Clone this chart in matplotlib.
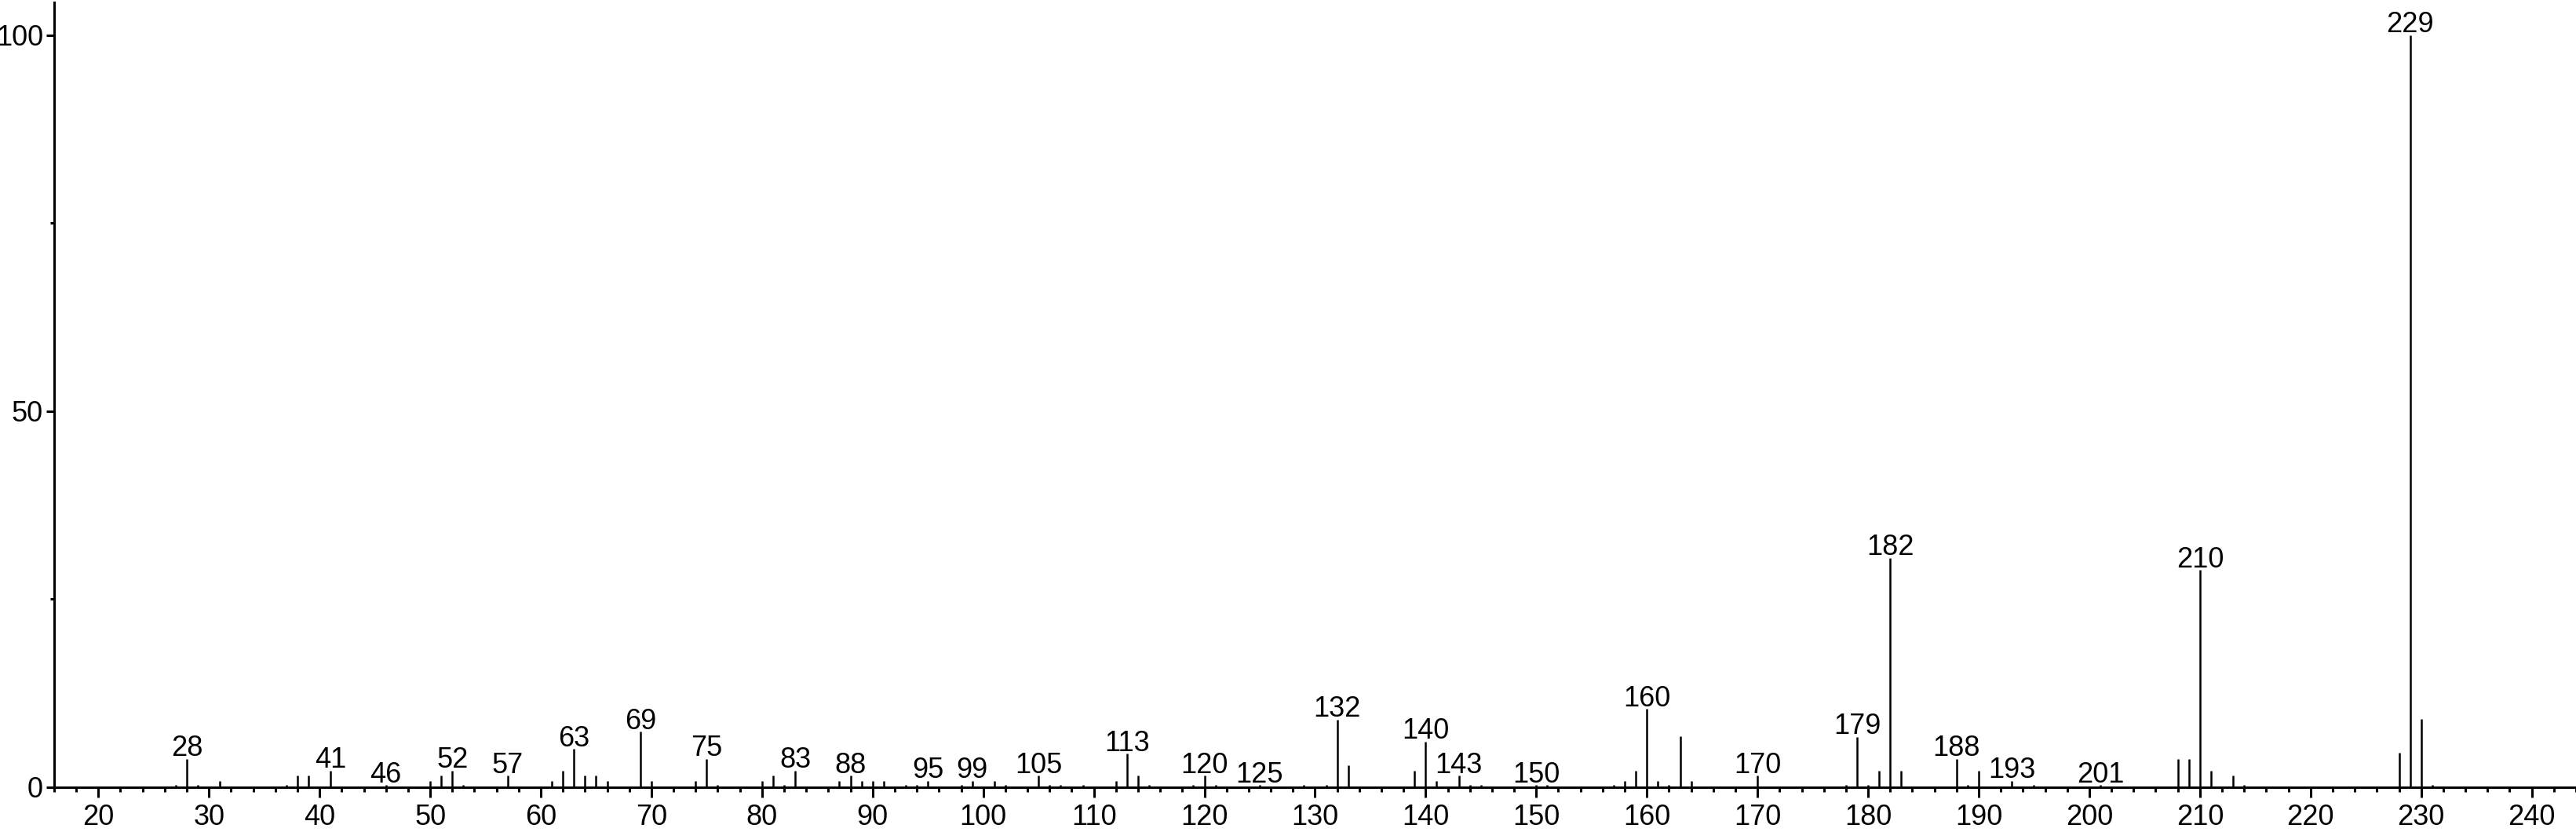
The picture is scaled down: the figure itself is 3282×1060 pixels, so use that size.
import matplotlib
matplotlib.use("Agg")
import matplotlib.pyplot as plt
from matplotlib.ticker import MultipleLocator

plt.rcParams['font.family'] = ['Liberation Sans', 'DejaVu Sans']

# m/z values and relative intensities (%)
mz = [27, 28, 29, 31, 37, 38, 39, 41, 46, 50, 51, 52, 53, 57,
      61, 62, 63, 64, 65, 66, 69, 70, 74, 75, 76, 80, 81, 82, 83,
      87, 88, 89, 90, 91, 93, 94, 95, 98, 99, 101, 102, 105, 106,
      107, 109, 112, 113, 114, 115, 119, 120, 121, 125, 129, 131,
      132, 133, 139, 140, 141, 143, 144, 145, 150, 151, 157, 158,
      159, 160, 161, 162, 163, 164, 170, 178, 179, 180, 181, 182,
      183, 188, 189, 190, 193, 195, 201, 208, 209, 210, 211, 213,
      214, 228, 229, 230, 231]
intensity = [0.3, 3.8, 0.3, 0.87, 0.3, 1.56, 1.56, 2.2, 0.3, 0.87, 1.56, 2.2, 0.3, 1.56,
             0.87, 2.2, 5.1, 1.56, 1.56, 0.87, 7.4, 0.87, 0.87, 3.8, 0.3, 0.87, 1.56, 0.3, 2.2,
             0.87, 1.56, 0.87, 0.87, 0.87, 0.3, 0.3, 0.87, 0.3, 0.87, 0.87, 0.3, 1.56, 0.3,
             0.3, 0.3, 0.87, 4.45, 1.56, 0.3, 0.3, 1.56, 0.3, 0.3, 0.3, 0.3,
             9.0, 2.9, 2.2, 6.1, 0.87, 1.56, 0.3, 0.3, 0.3, 0.3, 0.3, 0.87,
             2.2, 10.4, 0.87, 0.3, 6.8, 0.87, 1.56, 0.3, 6.7, 0.3, 2.2, 30.5,
             2.2, 3.8, 0.3, 2.2, 0.87, 0.3, 0.3, 3.8, 3.8, 28.9, 2.2, 1.56,
             0.3, 4.6, 100.0, 9.1, 0.3]

# peaks that carry an m/z label
labeled = [28, 41, 46, 52, 57, 63, 69, 75, 83, 88, 95, 99, 105, 113, 120,
           125, 132, 140, 143, 150, 160, 170, 179, 182, 188, 193, 201, 210, 229]

fig = plt.figure(figsize=(32.82, 10.60), dpi=100)
ax = fig.add_axes([0.021, 0.0538, 0.979, 0.943])

ax.vlines(mz, 0, intensity, color='black', linewidth=1.8)

lookup = dict(zip(mz, intensity))
for m in labeled:
    ax.annotate(str(m), (m, lookup[m]), xytext=(0, 2.5), textcoords='offset points',
                ha='center', va='baseline', fontsize=26)

ax.set_xlim(16, 244)
ax.set_ylim(0, 104.3)

ax.xaxis.set_major_locator(MultipleLocator(10))
ax.xaxis.set_minor_locator(MultipleLocator(2))
ax.set_yticks([0, 50, 100])
ax.yaxis.set_minor_locator(MultipleLocator(25))

for side in ['top', 'right']:
    ax.spines[side].set_visible(False)
for side in ['left', 'bottom']:
    ax.spines[side].set_linewidth(2.2)

ax.tick_params(axis='x', which='major', direction='out', length=9, width=2.2,
               labelsize=26, pad=6)
ax.tick_params(axis='x', which='minor', direction='out', length=4.5, width=2.2)
ax.tick_params(axis='y', which='major', direction='out', length=7, width=2.2,
               labelsize=26, pad=3)
ax.tick_params(axis='y', which='minor', direction='out', length=3.5, width=2.2)

fig.savefig("out.png", dpi=100)
plt.close(fig)
